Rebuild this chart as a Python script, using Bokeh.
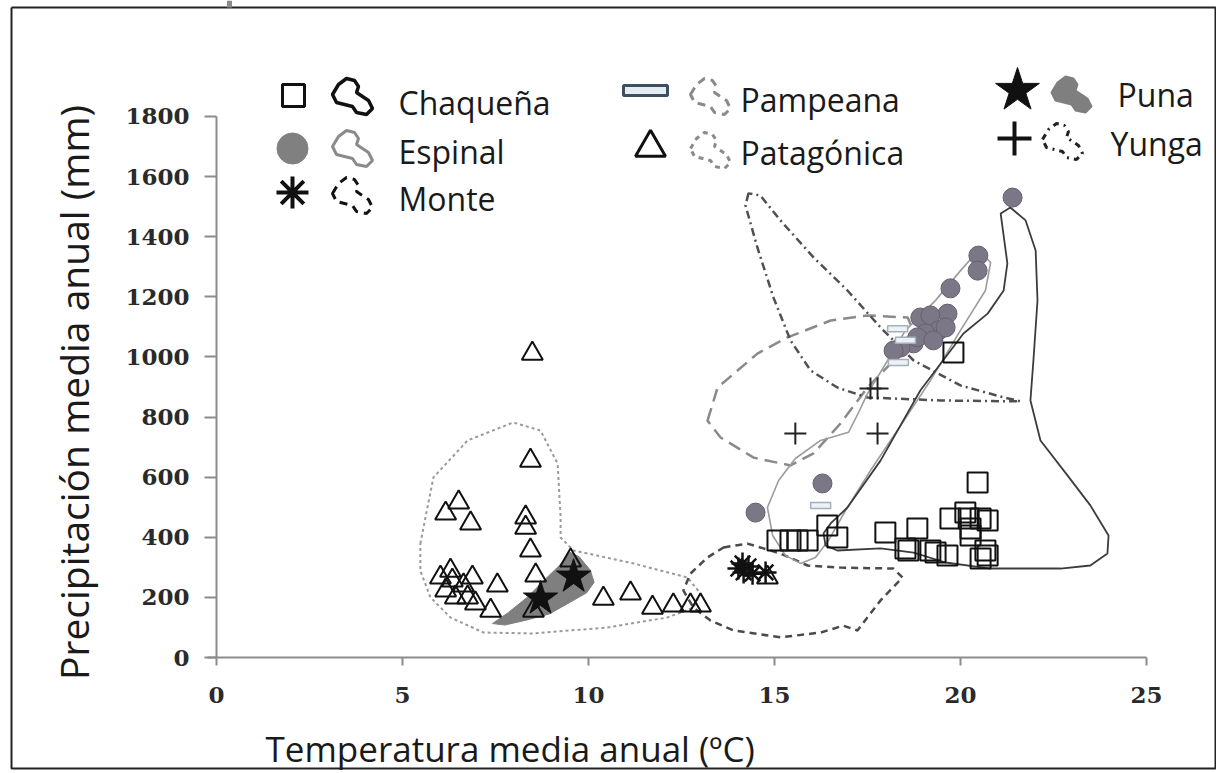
import math
from bokeh.plotting import figure
from bokeh.models import Range1d, FixedTicker, Label
from bokeh.embed import file_html
from bokeh.resources import INLINE

# ---------------- data (temperature ºC, precipitation mm) ----------------
cha_t = [19.81, 20.46, 15.08, 15.43, 15.62, 15.89, 16.42, 16.69, 17.98, 18.84, 18.60, 18.52,
         19.19, 19.33, 19.65, 19.73, 20.13, 20.22, 20.27, 20.54, 20.73, 20.27, 20.73, 20.54, 20.67]
cha_p = [1015, 582, 389, 389, 389, 389, 439, 399, 416, 429, 356, 363,
         356, 349, 339, 462, 482, 462, 429, 462, 456, 406, 339, 329, 356]

esp_t = [21.40, 20.48, 20.46, 19.73, 19.65, 18.92, 19.19, 19.41, 19.60, 19.06, 18.74, 18.39,
         18.20, 18.84, 19.27, 16.29, 14.49]
esp_p = [1530, 1337, 1287, 1228, 1144, 1131, 1138, 1088, 1098, 1078, 1045, 1031,
         1021, 1065, 1055, 579, 482]

mon_t = [14.14, 14.17, 14.03, 14.41, 14.76, 14.30]
mon_p = [313, 283, 296, 279, 283, 303]

pam_t = [18.31, 18.33, 16.24, 18.52]
pam_p = [1094, 981, 506, 1055]

pat_t = [8.49, 8.44, 6.51, 6.16, 6.83, 8.31, 8.31, 8.44, 6.02, 6.29, 6.34, 6.88, 7.55, 6.42,
         6.96, 7.37, 6.75, 8.58, 10.40, 11.13, 11.72, 12.28, 12.74, 13.01, 8.52, 9.52, 14.81,
         6.16, 6.64]
pat_p = [1011, 655, 516, 479, 446, 466, 432, 356, 266, 289, 256, 266, 240, 200,
         180, 156, 200, 273, 196, 213, 166, 173, 173, 173, 156, 323, 266,
         223, 240]

pun_t = [8.71, 9.60]
pun_p = [196, 269]

yun_t = [17.77, 17.58, 15.56, 17.77]
yun_p = [895, 895, 745, 745]

# envelopes of each ecoregion
cha_hull_t = [21.08, 21.34, 21.75, 22.02, 22.07, 21.96, 21.88, 22.15, 22.88, 23.49, 23.98, 23.95,
              23.49, 22.69, 20.81, 19.60, 18.74, 17.85, 16.69, 16.37, 16.32, 16.51, 16.96,
              17.85, 18.92, 20.08, 20.73, 21.16, 21.26]
cha_hull_p = [1477, 1497, 1454, 1354, 1188, 988, 855, 722, 605, 506, 406, 346,
              306, 296, 296, 316, 349, 363, 356, 373, 413, 446, 499,
              655, 888, 1078, 1144, 1221, 1311]

esp_hull_t = [20.48, 20.81, 20.67, 20.00, 19.19, 18.39, 17.58, 16.91, 16.45, 16.10, 15.70, 15.30,
              14.95, 14.81, 15.11, 15.56, 16.24, 16.99, 17.26, 17.50, 18.04, 18.52, 19.33, 20.00]
esp_hull_p = [1354, 1314, 1221, 1088, 921, 772, 622, 489, 389, 333, 313, 339,
              406, 499, 589, 662, 722, 749, 815, 878, 988, 1088, 1188, 1287]

mon_hull_t = [13.63, 14.27, 15.16, 15.89, 16.77, 18.20, 18.44, 17.85, 17.23, 16.85, 16.24, 15.16,
              13.90, 13.28, 12.82, 12.55, 12.74, 13.20]
mon_hull_p = [366, 379, 346, 306, 299, 296, 266, 190, 90, 106, 83, 67,
              90, 123, 166, 223, 279, 333]

pam_hull_t = [13.20, 13.47, 14.54, 15.35, 16.51, 17.50, 18.58, 18.79, 18.20, 17.50, 16.77, 16.05,
              15.43, 14.44, 13.55]
pam_hull_p = [788, 898, 1011, 1065, 1121, 1138, 1131, 1071, 988, 898, 778, 679,
              639, 665, 732]

pat_hull_t = [5.48, 5.83, 6.75, 7.98, 8.71, 9.17, 9.25, 9.25, 9.60, 11.21, 12.66, 13.01, 12.82,
              12.12, 10.51, 8.52, 7.18, 6.29, 5.75, 5.48]
pat_hull_p = [379, 599, 722, 782, 755, 645, 466, 399, 356, 313, 266, 213, 166,
              133, 100, 80, 83, 133, 200, 289]

pun_hull_t = [7.42, 7.85, 8.35, 8.85, 9.25, 9.50, 9.75, 10.05, 10.15, 9.95, 9.45, 8.95, 8.35, 7.75]
pun_hull_p = [113, 150, 200, 262, 310, 350, 335, 290, 250, 215, 180, 145, 125, 108]

yun_hull_t = [14.30, 14.22, 14.54, 14.97, 15.43, 15.97, 16.69, 17.50, 19.46, 21.61, 21.08, 20.00,
              18.74, 17.85, 16.96, 16.05, 15.16, 14.62]
yun_hull_p = [1544, 1504, 1364, 1198, 1055, 955, 898, 865, 855, 852, 868, 905,
              988, 1098, 1221, 1331, 1454, 1537]

x_ticks = [0, 5, 10, 15, 20, 25]
y_ticks = [0, 200, 400, 600, 800, 1000, 1200, 1400, 1600, 1800]

x_title = "Temperatura media anual (ºC)"
y_title = "Precipitación media anual (mm)"
names = ["Chaqueña", "Espinal", "Monte", "Pampeana", "Patagónica", "Puna", "Yunga"]

# ---------------- figure (the frame covers the whole canvas) ----------------
W, H = 1216, 771
XPX = 37.2      # pixels per ºC
YPX = 0.3006    # pixels per mm
X0, Y0 = 216, 657   # pixel position of the origin


def sx(px):
    return (px - X0) / XPX


def sy(py):
    return (Y0 - py) / YPX


p = figure(width=W, height=H, output_backend="svg", toolbar_location=None,
           x_range=Range1d(sx(0), sx(W)), y_range=Range1d(sy(H), sy(0)),
           min_border_left=0, min_border_right=0, min_border_top=0, min_border_bottom=0)
p.grid.visible = False
p.outline_line_color = None
p.background_fill_color = "white"
p.border_fill_color = "white"

AX = "#8c8c8c"
for ax in (p.xaxis[0], p.yaxis[0]):
    ax.fixed_location = 0
    ax.axis_line_color = AX
    ax.axis_line_width = 2
    ax.major_tick_line_color = AX
    ax.major_tick_line_width = 2
    ax.minor_tick_line_color = None
    ax.major_tick_in = 0
    ax.major_label_text_font = "DejaVu Serif"
    ax.major_label_text_font_style = "bold"
    ax.major_label_text_font_size = "23px"
    ax.major_label_text_color = "#2a2a2a"

p.xaxis[0].ticker = FixedTicker(ticks=x_ticks)
p.xaxis[0].bounds = (-0.24, 25)
p.xaxis[0].major_tick_out = 8
p.xaxis[0].major_label_standoff = 21
p.yaxis[0].ticker = FixedTicker(ticks=y_ticks)
p.yaxis[0].bounds = (0, 1800)
p.yaxis[0].major_tick_out = 12
p.yaxis[0].major_label_standoff = 15

FONT = "Open Sans"

# picture border
bx = [sx(11), sx(1215), sx(1215), sx(11), sx(11)]
by = [sy(7), sy(7), sy(768), sy(768), sy(7)]
p.line(bx, by, line_color="#222222", line_width=2)
p.line([sx(229), sx(229)], [sy(0), sy(7)], line_color="#8a8a8a", line_width=5)

# axis titles
p.add_layout(Label(x=sx(265), y=sy(748), text=x_title, text_font=FONT, text_font_size="35px",
                   text_baseline="middle", text_align="left", text_color="#1a1a1a"))
p.add_layout(Label(x=sx(73), y=sy(392), text=y_title, text_font=FONT, text_font_size="39px",
                   text_baseline="middle", text_align="center", angle=math.pi / 2,
                   text_color="#1a1a1a"))

# ---------------- envelopes ----------------
p.patch(pun_hull_t, pun_hull_p, fill_color="#7f7f7f", line_color="#7f7f7f", line_width=1)
p.patch(pat_hull_t, pat_hull_p, fill_color=None, line_color="#9a9a9a", line_width=2,
        line_dash="3 3")
p.patch(mon_hull_t, mon_hull_p, fill_color=None, line_color="#4a4a4a", line_width=2.5,
        line_dash="7 5")
p.patch(pam_hull_t, pam_hull_p, fill_color=None, line_color="#8a8a8a", line_width=2.5,
        line_dash="13 7")
p.patch(yun_hull_t, yun_hull_p, fill_color=None, line_color="#505050", line_width=2.5,
        line_dash="8 4 2 4")
p.patch(esp_hull_t, esp_hull_p, fill_color=None, line_color="#9c9c9c", line_width=1.6)
p.patch(cha_hull_t, cha_hull_p, fill_color=None, line_color="#3c3c3c", line_width=1.8)

# ---------------- points ----------------
p.scatter(pat_t, pat_p, marker="triangle", size=21, fill_color=None, line_color="#111111",
          line_width=2)
p.scatter(cha_t, cha_p, marker="square", size=20, fill_color=None, line_color="#111111",
          line_width=2)
p.scatter(esp_t, esp_p, marker="circle", size=19, fill_color="#7b7786", line_color="#66626f",
          line_width=1)
p.rect(pam_t, pam_p, width=20, height=6, width_units="screen", height_units="screen",
       fill_color="#eef2f6", line_color="#a4afbc", line_width=1.5)
p.scatter(mon_t, mon_p, marker="asterisk", size=22, line_color="#111111", line_width=2.5)
p.scatter(yun_t, yun_p, marker="cross", size=22, line_color="#222222", line_width=2)
p.scatter(pun_t, pun_p, marker="star", size=36, fill_color="#111111", line_color="#111111")

# ---------------- legend (drawn by hand) ----------------
blob = [(-20, -2), (-14, -12), (-6, -18), (2, -16), (6, -10), (4, -4), (10, 0), (16, 4),
        (20, 12), (14, 18), (4, 16), (0, 10), (-8, 8), (-16, 6)]


def icon(cx, cy, **kw):
    xs = [sx(cx + dx) for dx, dy in blob]
    ys = [sy(cy + dy) for dx, dy in blob]
    p.patch(xs, ys, **kw)


LFS = "32px"


def text(px, py, s):
    p.add_layout(Label(x=sx(px), y=sy(py), text=s, text_font=FONT, text_font_size=LFS,
                       text_baseline="middle", text_align="left", text_color="#1a1a1a"))


# column 1
p.scatter([sx(293)], [sy(95)], marker="square", size=22, fill_color=None,
          line_color="#111111", line_width=3)
icon(352, 96, fill_color=None, line_color="#111111", line_width=3.5)
text(398, 102, names[0])
p.scatter([sx(292)], [sy(148)], marker="circle", size=31, fill_color="#808080",
          line_color="#808080")
icon(352, 148, fill_color=None, line_color="#8a8a8a", line_width=3)
text(398, 151, names[1])
p.scatter([sx(292)], [sy(192)], marker="asterisk", size=32, line_color="#111111", line_width=4)
icon(352, 195, fill_color=None, line_color="#111111", line_width=3, line_dash="8 6")
text(398, 198, names[2])

# column 2
p.rect([sx(645)], [sy(90)], width=44, height=10, width_units="screen", height_units="screen",
       fill_color="#e4ebf1", line_color="#3e4f5f", line_width=3)
icon(710, 96, fill_color=None, line_color="#8a8a8a", line_width=3, line_dash="8 6")
text(740, 99, names[3])
p.scatter([sx(650)], [sy(147)], marker="triangle", size=30, fill_color=None,
          line_color="#111111", line_width=3)
icon(710, 150, fill_color=None, line_color="#8a8a8a", line_width=3, line_dash="5 5")
text(740, 152, names[4])

# column 3
p.scatter([sx(1017)], [sy(90)], marker="star", size=46, fill_color="#111111", line_color="#111111")
icon(1071, 94, fill_color="#7f7f7f", line_color="#7f7f7f", line_width=2)
text(1117, 94, names[5])
p.scatter([sx(1014)], [sy(138)], marker="cross", size=34, line_color="#111111", line_width=4)
icon(1062, 141, fill_color=None, line_color="#222222", line_width=3, line_dash="6 5 2 5")
text(1110, 143, names[6])

open("out.html", "w").write(file_html(p, INLINE))
